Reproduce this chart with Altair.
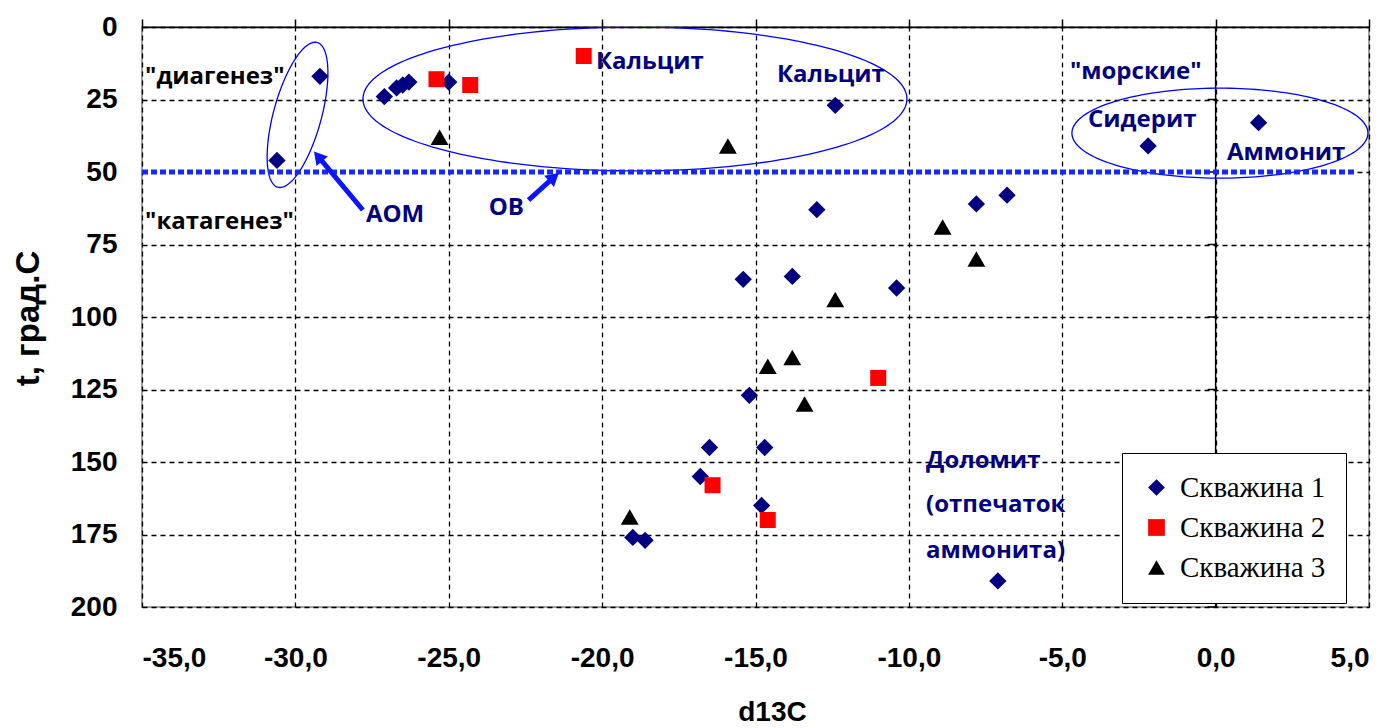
import altair as alt
import pandas as pd
import numpy as np

# ---------------- data ----------------
series_names = ["Скважина 1", "Скважина 2", "Скважина 3"]
series_colors = ["#000080", "#ff0000", "#000000"]
series_shapes = ["diamond", "square", "triangle-up"]

s1_x = [-29.2, -30.6, -27.1, -26.7, -26.5, -26.3, -25.0, -12.4, -13.0, -7.8, -2.2, 1.4,
        -6.8, -15.4, -13.8, -10.4, -15.2, -16.5, -14.7, -16.8, -14.8, -19.0, -18.6, -7.1]
s1_y = [17, 46, 24, 21, 20, 19, 19, 27, 63, 61, 41, 33,
        58, 87, 86, 90, 127, 145, 145, 155, 165, 176, 177, 191]

s2_x = [-20.6, -25.4, -24.3, -11.0, -16.4, -14.6]
s2_y = [10, 18, 20, 121, 158, 170]

s3_x = [-25.3, -15.9, -8.9, -7.8, -12.4, -13.8, -14.6, -13.4, -19.1]
s3_y = [38, 41, 69, 80, 94, 114, 117, 130, 169]

x_ticks = [-35, -30, -25, -20, -15, -10, -5, 0, 5]
y_ticks = [0, 25, 50, 75, 100, 125, 150, 175, 200]

# annotations
ann_text = ['"диагенез"', '"катагенез"', "АОМ", "ОВ", "Кальцит", "Кальцит",
            '"морские"', "Сидерит", "Аммонит", "Доломит", "(отпечаток", "аммонита)"]
ann_x = [-34.9, -34.9, -27.7, -23.7, -20.2, -14.3, -4.75, -4.16, 0.37, -9.44, -9.44, -9.44]
ann_y = [17.2, 67.2, 64.8, 62.4, 11.9, 16.6, 15.5, 32.0, 43.4, 149.7, 164.8, 180.7]
ann_col = ["#000000", "#000000", "#000080", "#000080", "#000080", "#000080",
           "#000080", "#000080", "#000080", "#000080", "#000080", "#000080"]

# boundary line diagenesis / catagenesis
bound_y = 50
bound_x0, bound_x1 = -35, 4.6

# ellipses: centre (data units), semi-axes (px), rotation (deg)
ell_cx = [-29.93, -18.93, 0.14]
ell_cy = [30.3, 24.8, 36.6]
ell_a = [75, 272, 148]
ell_b = [24, 72, 45]
ell_rot = [-74.8, 0, 0]

# arrows: start -> head centre
arr_x0 = [-27.8, -22.4]
arr_y0 = [63.1, 59.7]
arr_x1 = [-29.26, -21.57]
arr_y1 = [44.6, 51.8]
arr_ang = [320, 49]

# ---------------- geometry ----------------
W, H = 1227, 580
PX_X = W / 40.0
PX_Y = H / 200.0

X_SCALE = alt.Scale(domain=[-35, 5], nice=False, zero=False)
Y_SCALE = alt.Scale(domain=[0, 200], reverse=True, nice=False, zero=False)

pts = pd.DataFrame({
    "x": s1_x + s2_x + s3_x,
    "y": s1_y + s2_y + s3_y,
    "s": [series_names[0]] * len(s1_x) + [series_names[1]] * len(s2_x) + [series_names[2]] * len(s3_x),
})
size_map = {series_names[0]: 300, series_names[1]: 256, series_names[2]: 320}
pts["sz"] = pts["s"].map(size_map)

rows = []
for i in range(len(ell_cx)):
    t = np.linspace(0, 2 * np.pi, 181)
    phi = np.radians(ell_rot[i])
    dx = ell_a[i] * np.cos(t) * np.cos(phi) - ell_b[i] * np.sin(t) * np.sin(phi)
    dy = ell_a[i] * np.cos(t) * np.sin(phi) + ell_b[i] * np.sin(t) * np.cos(phi)
    for k in range(len(t)):
        rows.append({"e": i, "o": k, "x": ell_cx[i] + dx[k] / PX_X, "y": ell_cy[i] + dy[k] / PX_Y})
ell = pd.DataFrame(rows)

ann = pd.DataFrame({"t": ann_text, "x": ann_x, "y": ann_y, "c": ann_col})
arr = pd.DataFrame({"x0": arr_x0, "y0": arr_y0, "x1": arr_x1, "y1": arr_y1, "a": arr_ang})

label_expr = "replace(replace(format(datum.value, '.1f'), '.', ','), '\u2212', '-')"

x_bottom = alt.Axis(
    orient="bottom", values=x_ticks, labelExpr=label_expr,
    labelFont="Liberation Sans", labelFontWeight="bold", labelFontSize=28, labelColor="black",
    labelPadding=37, domain=False, ticks=False,
    grid=True, gridColor="black", gridDash=[5, 4], gridWidth=1.3, gridOpacity=1,
    title="d13C", titleFont="Liberation Sans", titleFontWeight="bold", titleFontSize=28,
    titleColor="black", titleX=630, titleY=113, titleBaseline="alphabetic",
)
x_top = alt.Axis(
    orient="top", values=x_ticks, labels=False, ticks=True, tickSize=8, tickColor="black",
    tickWidth=1.5, domain=True, domainColor="black", domainWidth=1.5, grid=False, title=None,
)
y_left = alt.Axis(
    orient="left", values=y_ticks, format="d",
    labelFont="Liberation Sans", labelFontWeight="bold", labelFontSize=28, labelColor="black",
    labelPadding=25, domain=False, ticks=False,
    grid=True, gridColor="black", gridDash=[5, 4], gridWidth=1.3, gridOpacity=1,
    title="t, град.С", titleFont="Liberation Sans", titleFontWeight="bold", titleFontSize=33,
    titleColor="black", titleX=-104, titleY=291, titleBaseline="alphabetic", titleAngle=270,
)


def Y(field):
    return alt.Y(field, scale=Y_SCALE, axis=y_left)


# points (carry the bottom axis and the legend)
points = alt.Chart(pts).mark_point(filled=True, opacity=1, strokeWidth=0).encode(
    x=alt.X("x:Q", scale=X_SCALE, axis=x_bottom),
    y=Y("y:Q"),
    color=alt.Color("s:N", scale=alt.Scale(domain=series_names, range=series_colors),
                    legend=alt.Legend(
                        orient="none", legendX=980, legendY=426, title=None,
                        fillColor="white", strokeColor="black", padding=20,
                        labelFont="Liberation Serif", labelFontSize=29, labelColor="black",
                        symbolSize=280, rowPadding=10, labelOffset=9, symbolStrokeWidth=0,
                        symbolOpacity=1)),
    shape=alt.Shape("s:N", scale=alt.Scale(domain=series_names, range=series_shapes)),
    size=alt.Size("sz:Q", scale=None, legend=None),
)

# vertical axis line at x = 0 plus top axis
zero_df = pd.DataFrame({"x": [0], "y0": [0], "y1": [200]})
zero_line = alt.Chart(zero_df).mark_rule(color="black", strokeWidth=1.5).encode(
    x=alt.X("x:Q", scale=X_SCALE, axis=x_top),
    y=Y("y0:Q"),
    y2="y1:Q",
)
tick_df = pd.DataFrame({"x": [0] * 8, "y": y_ticks[1:]})
zero_ticks = alt.Chart(tick_df).mark_point(shape="stroke", size=64, xOffset=-4, color="black",
                                           strokeWidth=1.5, filled=False, opacity=1).encode(
    x=alt.X("x:Q", scale=X_SCALE, axis=None),
    y=Y("y:Q"),
)

bound_df = pd.DataFrame({"x0": [bound_x0], "x1": [bound_x1], "y": [bound_y]})
bound = alt.Chart(bound_df).mark_rule(color="#1428ff", strokeWidth=5, strokeDash=[6, 3]).encode(
    x=alt.X("x0:Q", scale=X_SCALE, axis=None),
    x2="x1:Q",
    y=Y("y:Q"),
)

ellipses = alt.Chart(ell).mark_line(color="#0000ff", strokeWidth=1.3, clip=True).encode(
    x=alt.X("x:Q", scale=X_SCALE, axis=None),
    y=Y("y:Q"),
    detail="e:N",
    order="o:Q",
)

arrow_lines = alt.Chart(arr).mark_rule(color="#0a14ff", strokeWidth=5).encode(
    x=alt.X("x0:Q", scale=X_SCALE, axis=None),
    y=Y("y0:Q"),
    x2="x1:Q", y2="y1:Q",
)
arrow_heads = alt.Chart(arr).mark_point(shape="triangle-up", filled=True, size=220,
                                        color="#0a14ff", opacity=1, strokeWidth=0).encode(
    x=alt.X("x1:Q", scale=X_SCALE, axis=None),
    y=Y("y1:Q"),
    angle=alt.Angle("a:Q", scale=None),
)

texts = alt.Chart(ann).mark_text(align="left", baseline="middle", font="Open Sans",
                                 fontWeight="bold", fontSize=24).encode(
    x=alt.X("x:Q", scale=X_SCALE, axis=None),
    y=Y("y:Q"),
    text="t:N",
    color=alt.Color("c:N", scale=None),
)

chart = alt.layer(
    zero_line, zero_ticks, ellipses, bound, arrow_lines, arrow_heads, texts, points
).resolve_axis(x="independent").properties(
    width=W, height=H,
    autosize=alt.AutoSizeParams(type="none"),
    padding={"left": 142, "top": 27, "right": 24, "bottom": 121},
    background="white",
).configure_view(stroke="#a0a0a0", strokeWidth=2)

chart.save("out.html", embed_options={"renderer": "svg", "actions": False})
